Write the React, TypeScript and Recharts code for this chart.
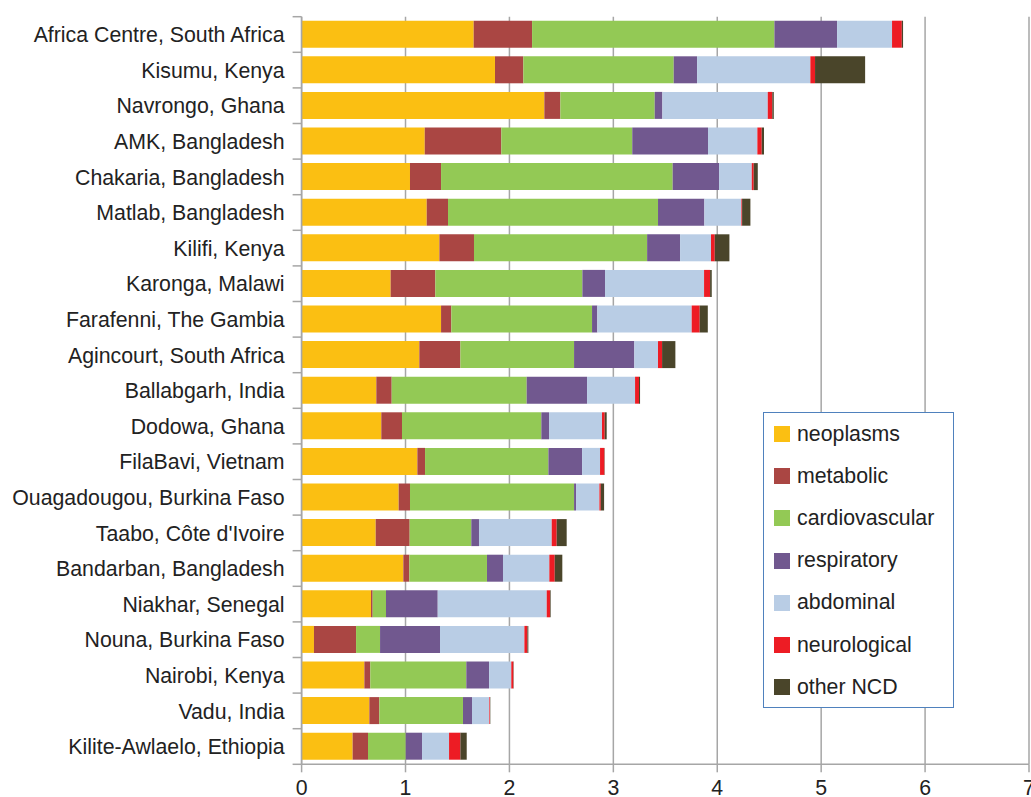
import React from "react";
import { BarChart, Bar, XAxis, YAxis, CartesianGrid, Legend } from "recharts";

const sites = [
  "Africa Centre, South Africa",
  "Kisumu, Kenya",
  "Navrongo, Ghana",
  "AMK, Bangladesh",
  "Chakaria, Bangladesh",
  "Matlab, Bangladesh",
  "Kilifi, Kenya",
  "Karonga, Malawi",
  "Farafenni, The Gambia",
  "Agincourt, South Africa",
  "Ballabgarh, India",
  "Dodowa, Ghana",
  "FilaBavi, Vietnam",
  "Ouagadougou, Burkina Faso",
  "Taabo, Côte d'Ivoire",
  "Bandarban, Bangladesh",
  "Niakhar, Senegal",
  "Nouna, Burkina Faso",
  "Nairobi, Kenya",
  "Vadu, India",
  "Kilite-Awlaelo, Ethiopia",
];

const neoplasms = [1.656, 1.861, 2.336, 1.185, 1.043, 1.204, 1.326, 0.857, 1.342, 1.133, 0.719, 0.767, 1.114, 0.934, 0.713, 0.979, 0.668, 0.119, 0.604, 0.652, 0.491];
const metabolic = [0.562, 0.273, 0.154, 0.737, 0.299, 0.205, 0.333, 0.43, 0.099, 0.395, 0.148, 0.199, 0.074, 0.109, 0.327, 0.058, 0.016, 0.405, 0.057, 0.096, 0.148];
const cardiovascular = [2.332, 1.447, 0.908, 1.26, 2.229, 2.021, 1.666, 1.415, 1.354, 1.094, 1.299, 1.341, 1.187, 1.579, 0.593, 0.747, 0.128, 0.231, 0.924, 0.805, 0.363];
const respiratory = [0.603, 0.225, 0.074, 0.729, 0.446, 0.446, 0.317, 0.218, 0.051, 0.58, 0.581, 0.074, 0.324, 0.019, 0.074, 0.154, 0.498, 0.577, 0.219, 0.087, 0.157];
const abdominal = [0.529, 1.09, 1.014, 0.475, 0.315, 0.356, 0.298, 0.953, 0.908, 0.228, 0.462, 0.51, 0.173, 0.225, 0.7, 0.446, 1.049, 0.812, 0.214, 0.167, 0.26];
const neurological = [0.094, 0.045, 0.044, 0.042, 0.019, 0.007, 0.036, 0.058, 0.077, 0.039, 0.038, 0.026, 0.042, 0.013, 0.048, 0.052, 0.032, 0.029, 0.02, 0.006, 0.109];
const otherNCD = [0.012, 0.482, 0.014, 0.022, 0.039, 0.08, 0.141, 0.016, 0.078, 0.128, 0.01, 0.019, 0.003, 0.032, 0.096, 0.073, 0.006, 0.009, 0.003, 0.003, 0.061];

const xTicks = [0, 1, 2, 3, 4, 5, 6, 7];

const seriesNames = ["neoplasms", "metabolic", "cardiovascular", "respiratory", "abdominal", "neurological", "other NCD"];
const seriesColors = ["#FBBF12", "#AA4643", "#93C955", "#71588F", "#B9CDE5", "#ED1C24", "#4A452A"];
const seriesValues = [neoplasms, metabolic, cardiovascular, respiratory, abdominal, neurological, otherNCD];

const data = sites.map((site, i) => {
  const row: Record<string, any> = { site };
  seriesNames.forEach((name, s) => {
    row[name] = seriesValues[s][i];
  });
  return row;
});

const W = 1031;
const H = 797;
const TOP = 16.7;
const XAXIS_H = 32.7;
const YAXIS_W = 301.6;
const BAND = (H - TOP - XAXIS_H) / sites.length;
const FONT = "'Liberation Sans', Arial, Helvetica, sans-serif";
const FS = 21.3;
const GRID = "#A6A6A6";

const YTick = (props: any) => {
  const { x, y, payload, index } = props;
  const last = index === sites.length - 1;
  return (
    <g>
      <text
        x={x}
        y={y}
        dy={7.6}
        textAnchor="end"
        fontSize={FS}
        fontFamily={FONT}
        fill="#222"
      >
        {payload.value}
      </text>
      <line x1={x + 8} x2={x + 17} y1={y - BAND / 2} y2={y - BAND / 2} stroke={GRID} strokeWidth={1.5} />
      {last && (
        <line x1={x + 8} x2={x + 17} y1={y + BAND / 2} y2={y + BAND / 2} stroke={GRID} strokeWidth={1.5} />
      )}
    </g>
  );
};

const LegendBox = (props: any) => {
  const items = [...(props.payload || [])].sort(
    (a: any, b: any) => seriesNames.indexOf(a.value) - seriesNames.indexOf(b.value)
  );
  return (
    <div
      style={{
        border: "1.5px solid #4F81BD",
        background: "#fff",
        width: 189,
        height: 294,
        boxSizing: "content-box",
        fontFamily: FONT,
        fontSize: FS,
        color: "#222",
      }}
    >
      {items.map((entry: any) => (
        <div
          key={entry.value}
          style={{ height: 42.2, display: "flex", alignItems: "center" }}
        >
          <div
            style={{
              width: 16,
              height: 16,
              background: entry.color,
              marginLeft: 10,
              marginRight: 7,
            }}
          />
          <span>{entry.value}</span>
        </div>
      ))}
    </div>
  );
};

export default function App() {
  return (
    <div style={{ position: "absolute", left: 0, top: 0, width: W, height: H, background: "#fff" }}>
      <BarChart
        width={W}
        height={H}
        data={data}
        layout="vertical"
        margin={{ top: TOP, right: 2, bottom: 0, left: 0 }}
        barSize={27}
      >
        <CartesianGrid horizontal={false} vertical={true} stroke={GRID} strokeWidth={1.5} />
        <XAxis
          type="number"
          domain={[0, 7]}
          ticks={xTicks}
          interval={0}
          height={XAXIS_H}
          axisLine={{ stroke: GRID, strokeWidth: 1.5 }}
          tickLine={{ stroke: GRID, strokeWidth: 1.5 }}
          tickSize={8}
          tickMargin={8}
          tick={{ fontSize: FS, fontFamily: FONT, fill: "#222" }}
        />
        <YAxis
          type="category"
          dataKey="site"
          width={YAXIS_W}
          interval={0}
          axisLine={{ stroke: GRID, strokeWidth: 1.5 }}
          tickLine={false}
          tickSize={9}
          tickMargin={8}
          tick={<YTick />}
        />
        <Legend
          layout="vertical"
          align="center"
          verticalAlign="middle"
          itemSorter={null as any}
          content={<LegendBox />}
          wrapperStyle={{ position: "absolute", left: 763, top: 412, width: 192, height: 297 }}
        />
        {seriesNames.map((name, s) => (
          <Bar
            key={name}
            dataKey={name}
            name={name}
            stackId="a"
            fill={seriesColors[s]}
            isAnimationActive={false}
          />
        ))}
      </BarChart>
    </div>
  );
}
